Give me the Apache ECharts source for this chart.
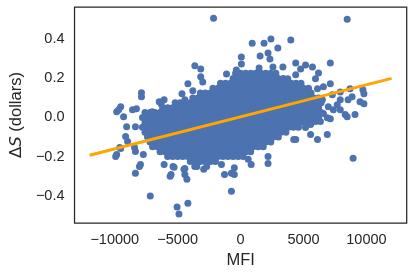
<!DOCTYPE html>
<html><head><meta charset="utf-8">
<script src="https://cdn.jsdelivr.net/npm/echarts@6/dist/echarts.min.js"></script>
<style>html,body{margin:0;padding:0;background:#fff}#c{width:413px;height:274px}</style>
</head><body><div id="c"></div>
<script>
// Dense core of the cloud: each row = [deltaS, [MFI values read along that row]]
const coreRows = [
  [0.226, [-400,0,400,800,1200,1600,2000,2400,2800]],
  [0.2, [-600,-200,200,600,1000,1400,1800,2200,2600,3000,3400]],
  [0.175, [-1600,-1200,-800,-400,0,400,800,1200,1600,2000,2400,2800,3200,3600,4000,4400,4800]],
  [0.15, [-2200,-1800,-1400,-1000,-600,-200,200,600,1000,1400,1800,2200,2600,3000,3400,3800,4200,4600,5000,5400]],
  [0.125, [-3200,-2800,-2400,-2000,-1600,-1200,-800,-400,0,400,800,1200,1600,2000,2400,2800,3200,3600,4000,4400,4800,5200,5600]],
  [0.1, [-3800,-3400,-3000,-2600,-2200,-1800,-1400,-1000,-600,-200,200,600,1000,1400,1800,2200,2600,3000,3400,3800,4200,4600,5000,5400,5800,6200]],
  [0.075, [-5200,-4800,-4400,-4000,-3600,-3200,-2800,-2400,-2000,-1600,-1200,-800,-400,0,400,800,1200,1600,2000,2400,2800,3200,3600,4000,4400,4800,5200,5600,6000,6400]],
  [0.05, [-6200,-5800,-5400,-5000,-4600,-4200,-3800,-3400,-3000,-2600,-2200,-1800,-1400,-1000,-600,-200,200,600,1000,1400,1800,2200,2600,3000,3400,3800,4200,4600,5000,5400,5800,6200]],
  [0.025, [-7600,-7200,-6800,-6400,-6000,-5600,-5200,-4800,-4400,-4000,-3600,-3200,-2800,-2400,-2000,-1600,-1200,-800,-400,0,400,800,1200,1600,2000,2400,2800,3200,3600,4000,4400,4800,5200,5600,6000,6400]],
  [0, [-7800,-7400,-7000,-6600,-6200,-5800,-5400,-5000,-4600,-4200,-3800,-3400,-3000,-2600,-2200,-1800,-1400,-1000,-600,-200,200,600,1000,1400,1800,2200,2600,3000,3400,3800,4200,4600,5000,5400,5800,6200]],
  [-0.025, [-7600,-7200,-6800,-6400,-6000,-5600,-5200,-4800,-4400,-4000,-3600,-3200,-2800,-2400,-2000,-1600,-1200,-800,-400,0,400,800,1200,1600,2000,2400,2800,3200,3600,4000,4400,4800,5200,5600]],
  [-0.05, [-7800,-7400,-7000,-6600,-6200,-5800,-5400,-5000,-4600,-4200,-3800,-3400,-3000,-2600,-2200,-1800,-1400,-1000,-600,-200,200,600,1000,1400,1800,2200,2600,3000,3400,3800,4200,4600]],
  [-0.075, [-7600,-7200,-6800,-6400,-6000,-5600,-5200,-4800,-4400,-4000,-3600,-3200,-2800,-2400,-2000,-1600,-1200,-800,-400,0,400,800,1200,1600,2000,2400,2800,3200,3600]],
  [-0.1, [-7400,-7000,-6600,-6200,-5800,-5400,-5000,-4600,-4200,-3800,-3400,-3000,-2600,-2200,-1800,-1400,-1000,-600,-200,200,600,1000,1400,1800,2200,2600,3000]],
  [-0.125, [-7200,-6800,-6400,-6000,-5600,-5200,-4800,-4400,-4000,-3600,-3200,-2800,-2400,-2000,-1600,-1200,-800,-400,0,400,800,1200,1600,2000,2400]],
  [-0.15, [-7000,-6600,-6200,-5800,-5400,-5000,-4600,-4200,-3800,-3400,-3000,-2600,-2200,-1800,-1400,-1000,-600,-200,200,600,1000,1400,1800]],
  [-0.175, [-6400,-6000,-5600,-5200,-4800,-4400,-4000,-3600,-3200,-2800,-2400,-2000,-1600,-1200,-800,-400,0,400,800]],
  [-0.2, [-5800,-5400,-5000,-4600,-4200,-3800,-3400,-3000,-2600,-2200,-1800,-1400,-1000,-600,-200,200]],
  [-0.225, [-4000,-3600,-3200,-2800,-2400,-2000]]
];
// Scattered points around the core: [MFI, deltaS]
const outerPoints = [
  [-2150,0.508],[8470,0.503],[920,0.380],[1860,0.380],[2410,0.401],[3990,0.396],[2960,0.355],
  [1550,0.314],[2180,0.330],[2330,0.299],[60,0.309],[60,0.274],[-3640,0.264],[-3170,0.248],
  [-3170,0.208],[-3010,0.182],[-4190,0.172],[-4660,0.121],[-3800,0.137],[-1120,0.223],[-340,0.243],
  [1470,0.253],[2570,0.258],[3360,0.258],[3750,0.198],[4380,0.218],[-7880,0.126],[-7880,0.106],
  [-4430,0.091],[-6470,0.081],[-6080,0.091],[-6310,0.070],[-7020,0.030],[-8590,0.040],[-8360,-0.047],
  [-9530,0.055],[-9690,0.040],[-8280,0.045],
  [4380,0.279],[5160,0.269],[5710,0.258],[7130,0.279],[4770,0.248],[6190,0.228],[5950,0.198],
  [6110,0.147],[6580,0.157],[7130,0.172],[7920,0.131],[8700,0.147],[9720,0.142],[9800,0.121],
  [9490,0.081],[9800,0.070],[8540,0.091],[8860,0.106],[7920,0.091],[7370,0.040],[6580,0.020],
  [6970,0.055],[7680,0.065],[6500,0.091],[5560,0.070],[7290,0.116],[8470,0.004],[9090,0.015],
  [8310,0.015],[6890,-0.001],[7130,-0.006],[4380,-0.113],[5560,-0.087],[6110,-0.113],[6890,-0.087],
  [8940,-0.209],[7920,0.040],[5560,-0.036],[6340,-0.021],[5160,-0.051],[5950,-0.021],
  [-8360,-0.285],[-7180,-0.402],[-6080,-0.240],[-5600,-0.301],[-5290,-0.255],[-5050,-0.458],
  [-4900,-0.494],[-4190,-0.438],[-4500,-0.265],[-4430,-0.291],[-4270,-0.316],[-3640,-0.250],
  [-2930,-0.265],[-2700,-0.250],[-1520,-0.240],[-1280,-0.291],[-730,-0.285],[-500,-0.291],
  [-730,-0.377],[600,-0.214],[840,-0.240],[2180,-0.199],[2180,-0.235],[4220,-0.113],[-7960,-0.240],
  [-8040,-0.250],[-7730,-0.189],[-5370,-0.250],[-5530,-0.291],[-9850,-0.189],[-9530,-0.158],
  [-9140,-0.097],[-9060,-0.047],[-9300,0.004],[-9850,0.030],[-8360,-0.174],[-9930,-0.199],
  [-9610,-0.153],[-8980,-0.123],[-8430,-0.153],[-3480,-0.250],[-500,-0.257],[-4430,-0.261]
];
// Least-squares fit line end points: [MFI, deltaS]
const fitLine = [[-12000,-0.193],[12000,0.2]];
const xTicks = [-10000,-5000,0,5000,10000];
const yTicks = [-0.4,-0.2,0,0.2,0.4];

const scatterData = [];
coreRows.forEach(r => r[1].forEach(x => scatterData.push([x, r[0]])));
outerPoints.forEach(p => scatterData.push(p));

const txt = '#262626';
const minus = s => s.replace('-', '\u2212');
const chart = echarts.init(document.getElementById('c'), null, {renderer:'canvas'});
chart.setOption({
  animation:false,
  backgroundColor:'#fff',
  grid:{left:71, top:7, right:6.3, bottom:49.7, show:true, borderColor:txt, borderWidth:1.25, backgroundColor:'transparent'},
  xAxis:{
    type:'value', min:-13200, max:13200, splitNumber:5,
    name:'MFI', nameLocation:'middle', nameGap:25,
    nameTextStyle:{fontFamily:'Liberation Sans', fontSize:16.5, color:txt},
    axisLine:{show:false}, axisTick:{show:false}, splitLine:{show:false},
    axisLabel:{fontFamily:'Liberation Sans', fontSize:14.5, color:txt, margin:9,
      showMinLabel:false, showMaxLabel:false,
      formatter:v => xTicks.some(t => Math.abs(t - v) < 1e-6) ? minus(String(v)) : ''}
  },
  yAxis:{
    type:'value', min:-0.54, max:0.565, splitNumber:5,
    name:'{m|\u0394}{i|S}{n| (dollars)}', nameLocation:'middle', nameGap:45,
    nameTextStyle:{fontFamily:'Liberation Sans', fontSize:16.5, color:txt,
      rich:{m:{fontFamily:'DejaVu Sans', fontSize:16.5, color:txt},
            i:{fontFamily:'DejaVu Sans', fontStyle:'italic', fontSize:16.5, color:txt},
            n:{fontFamily:'Liberation Sans', fontSize:16.5, color:txt}}},
    axisLine:{show:false}, axisTick:{show:false}, splitLine:{show:false},
    axisLabel:{fontFamily:'Liberation Sans', fontSize:14.5, color:txt, margin:10,
      padding:[3,0,0,0],
      showMinLabel:false, showMaxLabel:false,
      formatter:v => yTicks.some(t => Math.abs(t - v) < 1e-6) ? minus(v.toFixed(1)) : ''}
  },
  series:[
    {type:'scatter', data:scatterData, symbolSize:7, itemStyle:{color:'#4C72B0', opacity:1}, z:2},
    {type:'line', data:fitLine, symbol:'none', lineStyle:{color:'#FFA500', width:3}, z:3}
  ]
});
</script></body></html>
